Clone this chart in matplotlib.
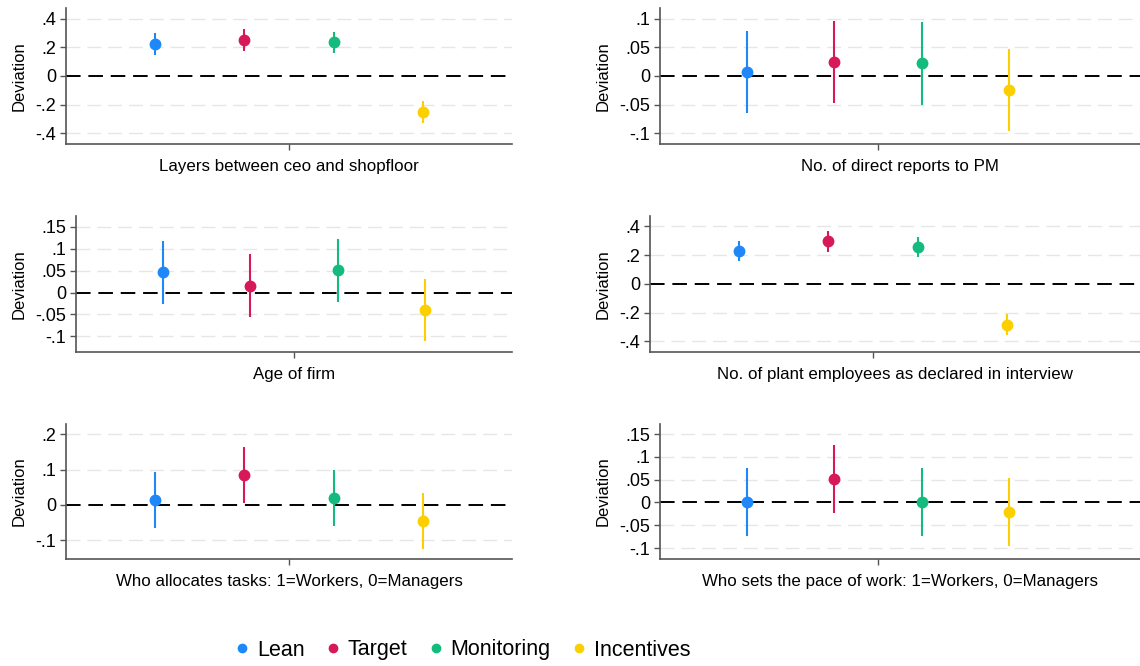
import matplotlib
matplotlib.use("Agg")
import matplotlib.pyplot as plt
from matplotlib.lines import Line2D

plt.rcParams['font.family'] = ['Liberation Sans', 'DejaVu Sans']

series = ["Lean", "Target", "Monitoring", "Incentives"]
colors = ["#1F88F8", "#D7195A", "#15BA7E", "#FCD000"]

titles = [
    "Layers between ceo and shopfloor",
    "No. of direct reports to PM",
    "Age of firm",
    "No. of plant employees as declared in interview",
    "Who allocates tasks: 1=Workers, 0=Managers",
    "Who sets the pace of work: 1=Workers, 0=Managers",
]

# point estimates per panel: Lean, Target, Monitoring, Incentives
est_layers = [0.222, 0.250, 0.236, -0.253]
lo_layers = [0.147, 0.175, 0.164, -0.327]
hi_layers = [0.300, 0.327, 0.311, -0.175]

est_reports = [0.0076, 0.0246, 0.022, -0.0246]
lo_reports = [-0.064, -0.047, -0.050, -0.096]
hi_reports = [0.0795, 0.097, 0.094, 0.048]

est_age = [0.0465, 0.016, 0.051, -0.0396]
lo_age = [-0.026, -0.0556, -0.0213, -0.111]
hi_age = [0.118, 0.0877, 0.1227, 0.032]

est_employees = [0.230, 0.295, 0.256, -0.284]
lo_employees = [0.158, 0.223, 0.184, -0.353]
hi_employees = [0.300, 0.367, 0.328, -0.212]

est_tasks = [0.0142, 0.086, 0.0199, -0.0454]
lo_tasks = [-0.065, 0.0066, -0.0596, -0.124]
hi_tasks = [0.0927, 0.165, 0.0993, 0.034]

est_pace = [0.0, 0.0504, 0.0015, -0.022]
lo_pace = [-0.0746, -0.024, -0.073, -0.0965]
hi_pace = [0.0746, 0.125, 0.076, 0.0526]

panels_est = [est_layers, est_reports, est_age, est_employees, est_tasks, est_pace]
panels_lo = [lo_layers, lo_reports, lo_age, lo_employees, lo_tasks, lo_pace]
panels_hi = [hi_layers, hi_reports, hi_age, hi_employees, hi_tasks, hi_pace]

yticks = [
    [-0.4, -0.2, 0, 0.2, 0.4],
    [-0.1, -0.05, 0, 0.05, 0.1],
    [-0.1, -0.05, 0, 0.05, 0.1, 0.15],
    [-0.4, -0.2, 0, 0.2, 0.4],
    [-0.1, 0, 0.1, 0.2],
    [-0.1, -0.05, 0, 0.05, 0.1, 0.15],
]
ylims = [(-0.477, 0.477), (-0.119, 0.119), (-0.136, 0.175),
         (-0.474, 0.472), (-0.153, 0.229), (-0.124, 0.172)]

# axes geometry in pixels: left, right, top, bottom, half-width, ylabel x
W, H = 1140, 666
geo = [
    (66, 512, 8, 144, 223, 27),
    (660, 1140, 8, 144, 218, 611),
    (76, 512, 216, 352, 218, 27),
    (650, 1140, 216, 352, 223, 611),
    (66, 512, 424, 559, 223, 27),
    (660, 1140, 424, 559, 218, 611),
]

def fmt(v):
    if abs(v) < 1e-12:
        return "0"
    s = ("%g" % v)
    s = s.replace("0.", ".")
    return s

fig = plt.figure(figsize=(W / 100, H / 100), dpi=100)
positions = [0.2, 0.4, 0.6, 0.8]

for i in range(6):
    l, r, t, b, hw, ylx = geo[i]
    ax = fig.add_axes([l / W, 1 - b / H, (r - l) / W, (b - t) / H])
    full = 2 * hw
    ax.set_xlim(0, (r - l) / full)
    ax.set_ylim(*ylims[i])
    for y in yticks[i]:
        if y != 0:
            ax.axhline(y, color="#e6e6e6", lw=1.0, ls=(0, (10, 5)), zorder=0)
    ax.axhline(0, color="black", lw=1.4, ls=(0, (7.5, 4)), zorder=1)
    for j in range(4):
        ax.plot([positions[j], positions[j]], [panels_lo[i][j], panels_hi[i][j]],
                color=colors[j], lw=1.5, zorder=2, solid_capstyle="butt")
        ax.plot(positions[j], panels_est[i][j], "o", color=colors[j],
                markersize=7.5, zorder=3)
    ax.set_yticks(yticks[i])
    ax.set_yticklabels([fmt(v) for v in yticks[i]])
    ax.set_xticks([0.5])
    ax.set_xticklabels([""])
    ax.set_xlabel(titles[i], fontsize=12.2, labelpad=3.5)
    ax.set_ylabel("Deviation", fontsize=12)
    ax.yaxis.set_label_coords((ylx - l) / (r - l), 0.5)
    ax.tick_params(axis="both", labelsize=13, length=4, width=1, color="#555555", pad=3)
    for s in ["top", "right"]:
        ax.spines[s].set_visible(False)
    for s in ["left", "bottom"]:
        ax.spines[s].set_color("#555555")
        ax.spines[s].set_linewidth(1.2)
    ax.set_facecolor("none")

handles = [Line2D([], [], marker="o", ls="none", color=c, markersize=6) for c in colors]
fig.legend(handles, series, loc="center", bbox_to_anchor=(463 / W, 1 - 650 / H),
           ncol=4, frameon=False, fontsize=15.5, handlelength=0.6, handletextpad=0.4,
           columnspacing=1.0)

fig.savefig("out.png", dpi=100)
